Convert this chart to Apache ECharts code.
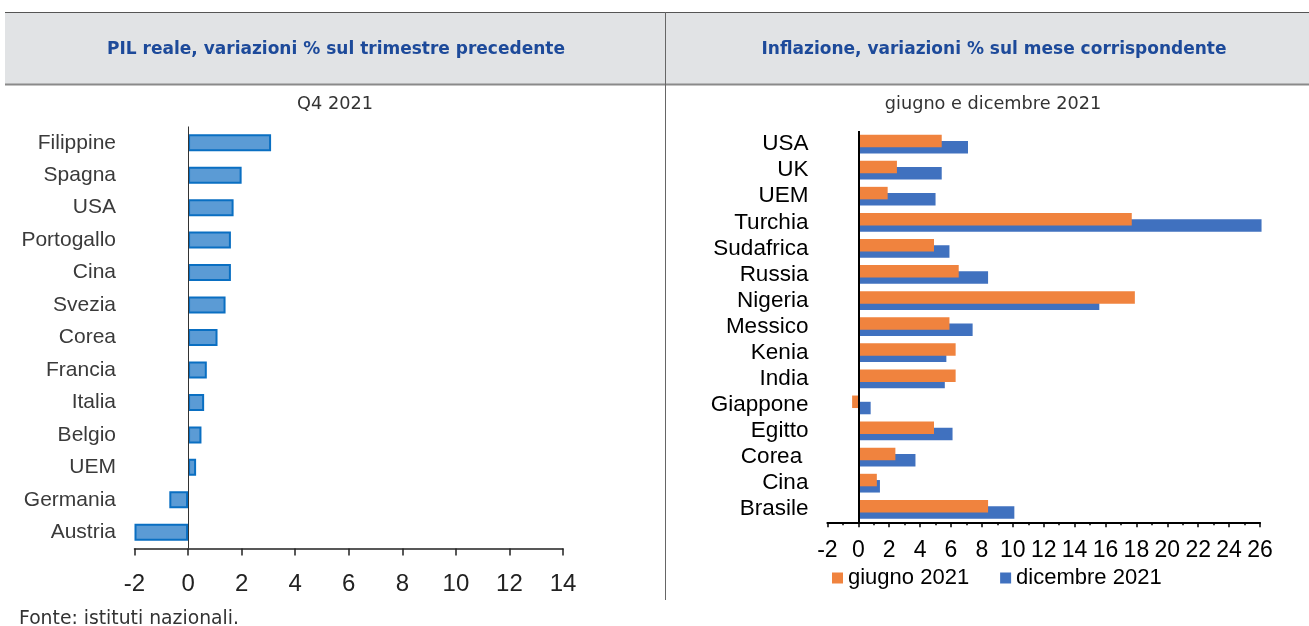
<!DOCTYPE html>
<html><head><meta charset="utf-8">
<script src="https://cdn.jsdelivr.net/npm/echarts@6/dist/echarts.min.js"></script>
<style>html,body{margin:0;padding:0;background:#fff}#c{width:1309px;height:626px}</style>
</head><body><div id="c"></div>
<script>
// ---- Data ----
const pilCategories = ['Filippine','Spagna','USA','Portogallo','Cina','Svezia','Corea','Francia','Italia','Belgio','UEM','Germania','Austria'];
const pilValues = [3.1, 2.0, 1.7, 1.6, 1.6, 1.4, 1.1, 0.7, 0.6, 0.5, 0.3, -0.7, -2.0];
const pilTicks = [-2, 0, 2, 4, 6, 8, 10, 12, 14];

const inflCategories = ['USA','UK','UEM','Turchia','Sudafrica','Russia','Nigeria','Messico','Kenia','India','Giappone','Egitto','Corea ','Cina','Brasile'];
const inflJune = [5.4, 2.5, 1.9, 17.7, 4.9, 6.5, 17.9, 5.9, 6.3, 6.3, -0.4, 4.9, 2.4, 1.2, 8.4];
const inflDec = [7.1, 5.4, 5.0, 26.1, 5.9, 8.4, 15.6, 7.4, 5.7, 5.6, 0.8, 6.1, 3.7, 1.4, 10.1];
const inflTicks = [-2, 0, 2, 4, 6, 8, 10, 12, 14, 16, 18, 20, 22, 24, 26];

const seriesNames = ['giugno 2021', 'dicembre 2021'];
const texts = {
  title1: 'PIL reale, variazioni % sul trimestre precedente',
  title2: 'Inflazione, variazioni % sul mese corrispondente',
  sub1: 'Q4 2021',
  sub2: 'giugno e dicembre 2021',
  source: 'Fonte: istituti nazionali.'
};

const AR = 'Liberation Sans, Arial, sans-serif';
const DV = '"DejaVu Sans", sans-serif';

function txt(x, y, s, font, fill, align) {
  return {type:'text', x:x, y:y, z:2,
    style:{text:s, font:font, fill:fill, textAlign:align, textVerticalAlign:'middle', align:align, verticalAlign:'middle'}};
}

const chart = echarts.init(document.getElementById('c'), null, {renderer: 'canvas'});
chart.setOption({
  animation: false,
  backgroundColor: '#ffffff',
  graphic: [
    {type:'rect', shape:{x:5, y:12, width:1304, height:72}, style:{fill:'#e1e3e5'}, z:0},
    {type:'line', shape:{x1:5, y1:12.5, x2:1309, y2:12.5}, style:{stroke:'#555', lineWidth:1}, z:1},
    {type:'line', shape:{x1:5, y1:84.5, x2:1309, y2:84.5}, style:{stroke:'#8a8a8a', lineWidth:2}, z:1},
    {type:'line', shape:{x1:665.5, y1:12, x2:665.5, y2:600}, style:{stroke:'#666', lineWidth:1}, z:1},
    txt(336, 50, texts.title1, 'bold 17px ' + DV, '#1d4a9a', 'center'),
    txt(994, 50, texts.title2, 'bold 17px ' + DV, '#1d4a9a', 'center'),
    txt(335, 104, texts.sub1, '17.7px ' + DV, '#333', 'center'),
    txt(993, 104, texts.sub2, '17.7px ' + DV, '#333', 'center'),
    txt(19, 619, texts.source, '18.8px ' + DV, '#333', 'left')
  ],
  legend: {
    data: seriesNames,
    left: 832, top: 567, padding: 0,
    icon: 'rect', itemWidth: 11, itemHeight: 11, itemGap: 31,
    textStyle: {fontFamily: AR, fontSize: 22, color: '#000'},
    selectedMode: false
  },
  grid: [
    {left: 134.5, top: 126.5, width: 428.5, height: 422, containLabel: false},
    {left: 827.4, top: 131, width: 432.6, height: 391.3, containLabel: false}
  ],
  xAxis: [
    {gridIndex:0, type:'value', min: pilTicks[0], max: pilTicks[pilTicks.length-1], interval: 2,
     axisLine:{show:true, onZero:false, lineStyle:{color:'#222', width:1.5}},
     axisTick:{show:true, length:7, lineStyle:{color:'#222', width:1.5}},
     axisLabel:{fontFamily: AR, fontSize: 24, color:'#222', margin: 24},
     splitLine:{show:false}},
    {gridIndex:1, type:'value', min: inflTicks[0], max: inflTicks[inflTicks.length-1], interval: 2,
     axisLine:{show:true, onZero:false, lineStyle:{color:'#000', width:2}},
     axisTick:{show:true, length:5, lineStyle:{color:'#000', width:1.5}},
     minorTick:{show:true, splitNumber:2, length:3, lineStyle:{color:'#000', width:1.5}},
     axisLabel:{fontFamily: AR, fontSize: 23, color:'#000', margin: 17},
     splitLine:{show:false}}
  ],
  yAxis: [
    {gridIndex:0, type:'category', data: pilCategories, inverse: true,
     axisLine:{show:false, onZero:false}, axisTick:{show:false},
     axisLabel:{fontFamily: AR, fontSize: 21, color:'#3a3a3a', margin: 18.5, interval: 0}},
    {gridIndex:1, type:'category', data: inflCategories, inverse: true,
     axisLine:{show:false, onZero:false}, axisTick:{show:false},
     axisLabel:{fontFamily: AR, fontSize: 22.5, color:'#000', margin: 19, interval: 0}}
  ],
  series: [
    {name:'PIL', type:'bar', xAxisIndex:0, yAxisIndex:0, data: pilValues, barWidth: 17,
     itemStyle:{color:'#5b9bd5', borderColor:'#0a6fc2', borderWidth:2},
     markLine:{silent:true, symbol:'none', label:{show:false}, animation:false,
       lineStyle:{color:'#333', width:1, type:'solid'}, data:[{xAxis:0}]}},
    {name: seriesNames[0], type:'bar', xAxisIndex:1, yAxisIndex:1, data: inflJune, barWidth: 12.5, barGap:'-50%', z:3,
     itemStyle:{color:'#f0833e'}, clip:false,
     markLine:{silent:true, symbol:'none', label:{show:false}, animation:false,
       lineStyle:{color:'#000', width:2, type:'solid'}, data:[{xAxis:0}]}},
    {name: seriesNames[1], type:'bar', xAxisIndex:1, yAxisIndex:1, data: inflDec, barWidth: 12.5, barGap:'-50%', z:2,
     itemStyle:{color:'#4071bf'}, clip:false}
  ]
});
</script>
</body></html>
